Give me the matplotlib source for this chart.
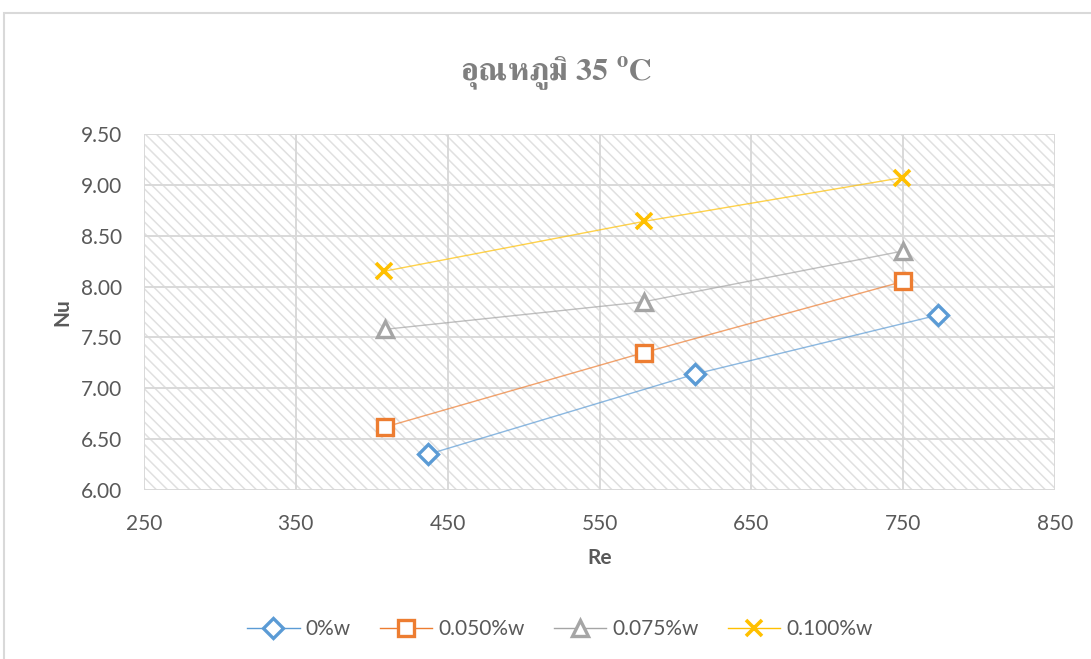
import matplotlib
matplotlib.use("Agg")
import matplotlib.pyplot as plt
from matplotlib.lines import Line2D
from matplotlib.patches import Rectangle

# ---- data ----
series_names = ["0%w", "0.050%w", "0.075%w", "0.100%w"]
re_0 = [437, 613, 773]
nu_0 = [6.35, 7.14, 7.72]
re_050 = [409, 579, 750]
nu_050 = [6.62, 7.35, 8.05]
re_075 = [409, 579, 750]
nu_075 = [7.58, 7.85, 8.35]
re_100 = [408, 579, 749]
nu_100 = [8.15, 8.64, 9.07]
x_ticks = [250, 350, 450, 550, 650, 750, 850]
y_ticks = [6.00, 6.50, 7.00, 7.50, 8.00, 8.50, 9.00, 9.50]
title_main = "อุณหภูมิ 35 "
x_label = "Re"
y_label = "Nu"

plt.rcParams['font.family'] = ['Lato', 'DejaVu Sans']
plt.rcParams['hatch.color'] = '#e0e0e0'
plt.rcParams['hatch.linewidth'] = 1.1
plt.rcParams['mathtext.fontset'] = 'custom'
plt.rcParams['mathtext.rm'] = 'FreeSerif:bold'
plt.rcParams['mathtext.bf'] = 'FreeSerif:bold'

W, H = 1091, 659
fig = plt.figure(figsize=(W / 100, H / 100), dpi=100)
ax = fig.add_axes([144 / W, 1 - 490 / H, (1055 - 144) / W, (490 - 134) / H])

# hatched plot area
ax.add_patch(Rectangle((0, 0), 1, 1, transform=ax.transAxes, facecolor='white',
                       edgecolor='#e0e0e0', linewidth=0, hatch='\\\\\\', zorder=0))

tick_col = '#595959'
grid_col = '#d9d9d9'

styles = [
    dict(color='#5B9BD5', marker='D', ms=10, mew=2.4),
    dict(color='#ED7D31', marker='s', ms=11, mew=2.4),
    dict(color='#A5A5A5', marker='^', ms=12, mew=2.4),
    dict(color='#FFC000', marker='x', ms=11, mew=2.6),
]
data = [(re_0, nu_0), (re_050, nu_050), (re_075, nu_075), (re_100, nu_100)]
handles = []
for (xs, ys), st, name in zip(data, styles, series_names):
    ax.plot(xs, ys, color=st['color'], lw=1.0, alpha=0.7, zorder=3)
    ax.plot(xs, ys, ls='none', marker=st['marker'], ms=st['ms'], mew=st['mew'],
            mec=st['color'], mfc='white', zorder=4)
    handles.append(Line2D([0], [0], color=st['color'], lw=1.0, marker=st['marker'],
                          ms=st['ms'], mew=st['mew'], mec=st['color'], mfc='white',
                          label=name))

ax.set_xlim(250, 850)
ax.set_ylim(6.0, 9.5)
ax.set_xticks(x_ticks)
ax.set_yticks(y_ticks)
ax.set_xticklabels([str(v) for v in x_ticks])
ax.set_yticklabels([f"{v:.2f}" for v in y_ticks])
ax.tick_params(axis='both', length=0, labelsize=15, labelcolor=tick_col)
ax.tick_params(axis='x', pad=17)
ax.tick_params(axis='y', pad=16)
for s in ax.spines.values():
    s.set_visible(False)
ax.grid(True, color=grid_col, lw=1.4, zorder=1)
ax.set_axisbelow(True)

fig.text(62 / W, 1 - 312 / H, y_label, rotation=90, ha='center', va='center',
         fontsize=15, fontweight='bold', color=tick_col)
fig.text(600 / W, 1 - 558 / H, x_label, ha='center', va='center',
         fontsize=15, fontweight='bold', color=tick_col)

fig.text(556 / W, 1 - 80 / H, title_main + r"$^{\mathrm{o}}$" + "C", ha='center',
         va='baseline', fontsize=23, fontweight='bold', color='#7f7f7f',
         family=['FreeSerif'])

leg = fig.legend(handles=handles, loc='center', bbox_to_anchor=(560 / W, 1 - 629 / H),
                 ncol=4, frameon=False, fontsize=15, handlelength=2.5,
                 columnspacing=1.4, handletextpad=0.3)
for t in leg.get_texts():
    t.set_color(tick_col)

# chart border
fig.add_artist(Rectangle((4 / W, -0.02), 1.02, 1 - 13 / H + 0.02, transform=fig.transFigure,
                         facecolor='none', edgecolor='#d9d9d9', lw=1.5))

fig.savefig("out.png", dpi=100)
